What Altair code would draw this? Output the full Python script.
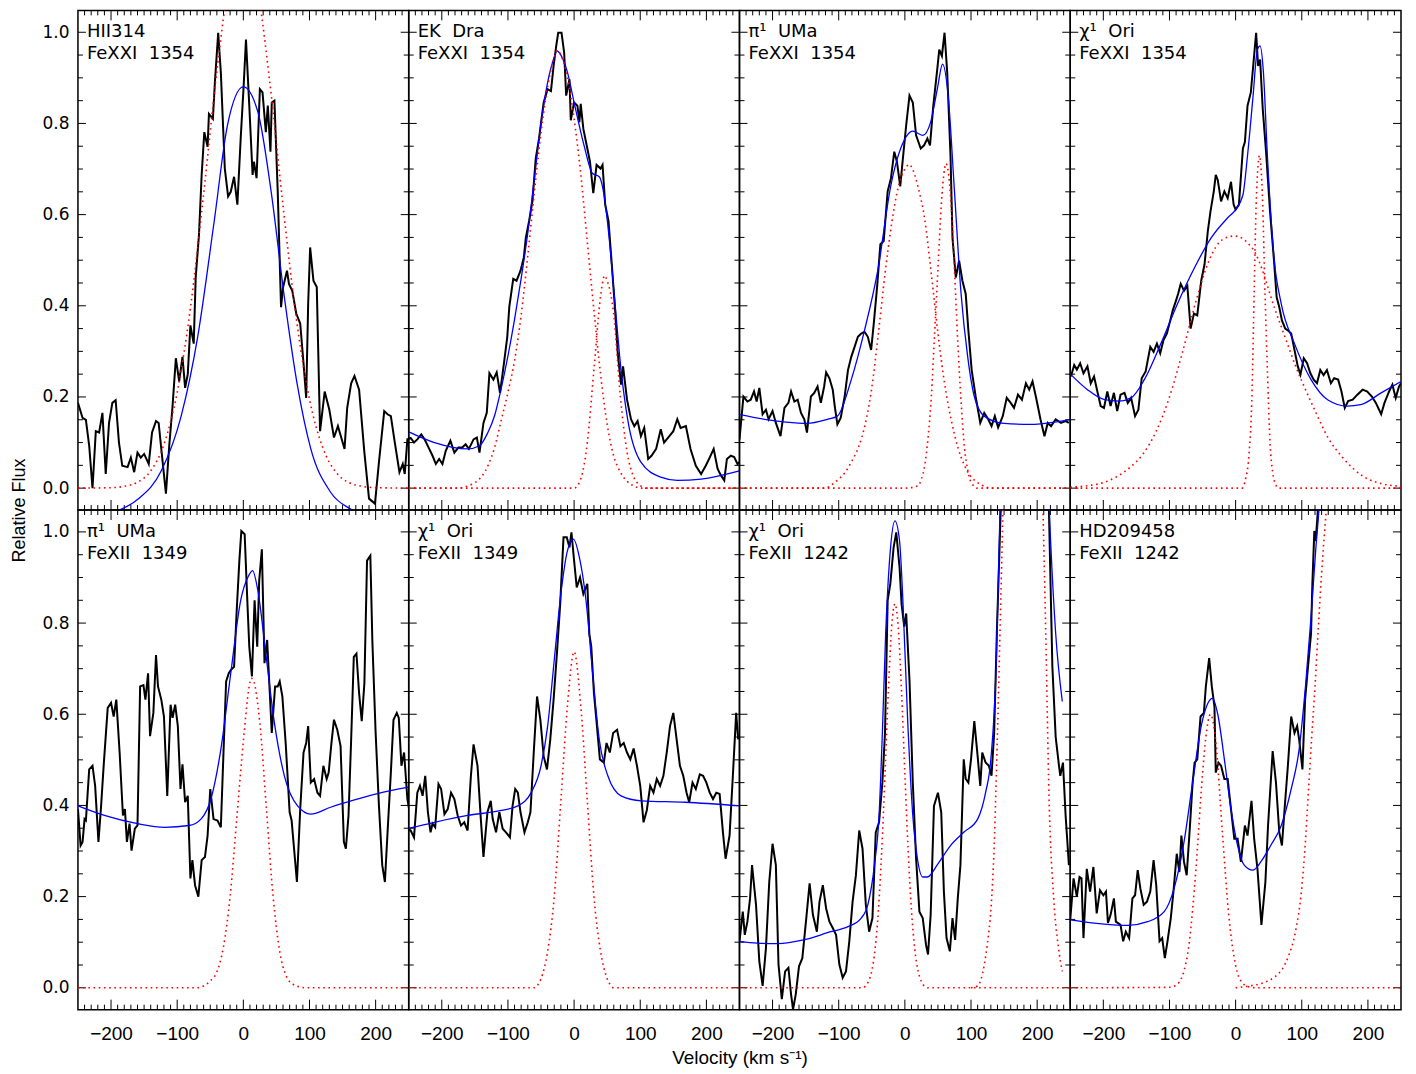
import altair as alt
import pandas as pd

# ------------------------------------------------------------------ data
P1_LABEL = "HII314\nFeXXI\u00a0 1354"
P1_BLACK = [(-250,0.187),(-243,0.154),(-238,0.15),(-233,0.093),(-228,0.0),(-223,0.125),(-218,0.122),(-213,0.165),(-208,0.031),(-203,0.143),(-198,0.187),(-193,0.193),(-188,0.100),(-183,0.049),(-175,0.046),(-170,0.067),(-165,0.035),(-160,0.078),(-155,0.067),(-150,0.075),(-143,0.053),(-138,0.122),(-132,0.147),(-128,0.143),(-124,0.086),(-117,-0.012),(-112,0.093),(-107,0.18),(-102,0.285),(-97,0.234),(-92,0.288),(-88,0.22),(-84,0.25),(-80,0.357),(-75,0.317),(-72,0.462),(-67,0.557),(-63,0.687),(-59,0.781),(-54,0.749),(-52,0.821),(-46,0.81),(-43,0.89),(-38,0.999),(-34,0.912),(-28,0.701),(-23,0.64),(-19,0.65),(-14,0.683),(-9,0.622),(-4,0.767),(0.5,0.883),(4,0.984),(9,0.839),(14,0.687),(16,0.716),(20,0.68),(25,0.875),(29,0.868),(34,0.781),(37,0.839),(41,0.738),(43,0.846),(47,0.85),(52,0.651),(57,0.397),(60,0.44),(66,0.477),(69,0.448),(74,0.433),(80,0.383),(86,0.361),(91,0.274),(95,0.198),(98,0.404),(101,0.528),(106,0.455),(111,0.441),(116,0.125),(123,0.212),(130,0.172),(137,0.111),(143,0.136),(148,0.111),(153,0.086),(157,0.176),(163,0.23),(168,0.246),(175,0.216),(183,0.078),(190,-0.023),(199,-0.034),(205,0.057),(213,0.169),(218,0.162),(223,0.158),(229,0.1),(236,0.035),(241,0.053),(244,0.031),(248,0.107),(253,0.107)]
P1_BLUE = [(-250,-0.07),(-220,-0.065),(-190,-0.05),(-160,-0.025),(-124,0.038),(-94,0.158),(-69,0.332),(-44,0.586),(-24,0.796),(0,0.88),(22,0.825),(42,0.651),(62,0.419),(82,0.223),(102,0.086),(132,-0.009),(168,-0.052),(200,-0.09)]
P1_RED = [[(-250,0),(-200,0.001),(-180,0.004),(-160,0.013),(-140,0.038),(-120,0.096),(-100,0.21),(-80,0.395),(-60,0.646),(-40,0.915),(-20,1.125),(0,1.2),(20,1.109),(40,0.89),(60,0.619),(80,0.373),(100,0.195),(120,0.089),(140,0.035),(160,0.012),(180,0.004),(200,0.001),(250,0)]]

P2_LABEL = "EK\u00a0 Dra\nFeXXI\u00a0 1354"
P2_BLACK = [(-252,0.107),(-247,0.11),(-242,0.1),(-237,0.107),(-231,0.118),(-226,0.107),(-219,0.086),(-214,0.071),(-209,0.053),(-204,0.064),(-199,0.053),(-194,0.082),(-187,0.104),(-181,0.078),(-175,0.089),(-169,0.089),(-164,0.096),(-159,0.086),(-152,0.107),(-147,0.111),(-143,0.078),(-137,0.143),(-132,0.165),(-128,0.252),(-122,0.238),(-117,0.254),(-112,0.209),(-106,0.274),(-101,0.332),(-98,0.397),(-92,0.459),(-87,0.455),(-81,0.477),(-76,0.506),(-73,0.549),(-68,0.586),(-63,0.629),(-58,0.723),(-53,0.767),(-46,0.846),(-40,0.875),(-35,0.871),(-31,0.926),(-27,0.97),(-24,0.999),(-19,0.999),(-15,0.955),(-12,0.861),(-7,0.897),(-5,0.807),(0,0.846),(5,0.839),(8,0.803),(10,0.843),(14,0.788),(19,0.752),(24,0.716),(29,0.647),(34,0.709),(40,0.701),(43,0.709),(47,0.622),(52,0.586),(57,0.491),(62,0.39),(66,0.296),(71,0.227),(74,0.267),(80,0.194),(86,0.151),(91,0.136),(96,0.147),(101,0.114),(106,0.132),(112,0.064),(117,0.071),(124,0.086),(131,0.129),(136,0.1),(144,0.114),(150,0.125),(156,0.151),(161,0.132),(169,0.136),(176,0.086),(184,0.049),(192,0.031),(199,0.049),(204,0.064),(211,0.086),(217,0.042),(222,0.028),(227,0.017),(231,0.064),(237,0.071),(242,0.068),(247,0.053),(252,0.06)]
P2_BLUE = [(-252,0.125),(-211,0.1),(-161,0.086),(-143,0.093),(-131,0.12),(-120,0.16),(-110,0.22),(-100,0.29),(-90,0.37),(-80,0.46),(-70,0.56),(-60,0.68),(-50,0.8),(-40,0.89),(-30,0.945),(-26,0.959),(-20,0.95),(-10,0.912),(0,0.846),(15,0.752),(28,0.69),(38,0.683),(46,0.636),(53,0.549),(61,0.419),(71,0.259),(81,0.151),(101,0.057),(131,0.024),(156,0.017),(192,0.02),(250,0.038)]
P2_RED = [[(-250,0),(-180,0),(-160,0.005),(-150,0.012),(-140,0.025),(-130,0.05),(-120,0.09),(-110,0.15),(-100,0.21),(-90,0.28),(-80,0.38),(-70,0.51),(-60,0.65),(-50,0.78),(-40,0.88),(-30,0.945),(-25,0.96),(-20,0.95),(-10,0.9),(0,0.81),(10,0.69),(20,0.54),(30,0.39),(40,0.25),(50,0.14),(60,0.07),(70,0.035),(80,0.015),(90,0.005),(100,0),(250,0)],
          [(-250,0),(0,0),(10,0.02),(20,0.1),(30,0.26),(40,0.42),(46,0.466),(50,0.455),(60,0.38),(70,0.2),(80,0.08),(90,0.025),(100,0.006),(110,0),(250,0)]]

P3_LABEL = "\u03c0\u00b9\u00a0 UMa\nFeXXI\u00a0 1354"
P3_BLACK = [(-250,0.107),(-244,0.201),(-238,0.19),(-233,0.194),(-228,0.212),(-224,0.19),(-220,0.22),(-215,0.162),(-210,0.172),(-206,0.151),(-200,0.169),(-195,0.143),(-188,0.114),(-182,0.176),(-176,0.187),(-172,0.212),(-167,0.19),(-162,0.194),(-157,0.165),(-152,0.151),(-148,0.122),(-142,0.201),(-137,0.209),(-132,0.223),(-127,0.187),(-122,0.223),(-119,0.254),(-114,0.241),(-109,0.216),(-106,0.18),(-102,0.14),(-97,0.154),(-91,0.201),(-86,0.259),(-81,0.288),(-76,0.31),(-71,0.332),(-66,0.339),(-61,0.343),(-56,0.332),(-51,0.303),(-47,0.361),(-42,0.441),(-37,0.535),(-32,0.542),(-26,0.651),(-21,0.68),(-16,0.738),(-12,0.716),(-7,0.662),(-3,0.723),(2,0.796),(7,0.861),(12,0.846),(17,0.774),(24,0.745),(29,0.752),(34,0.767),(38,0.752),(43,0.839),(49,0.919),(52,0.962),(56,0.948),(60,0.999),(64,0.912),(69,0.73),(72,0.549),(77,0.462),(82,0.499),(87,0.455),(92,0.426),(96,0.346),(101,0.259),(107,0.201),(114,0.143),(120,0.165),(126,0.151),(131,0.136),(136,0.158),(141,0.133),(148,0.158),(154,0.198),(160,0.187),(165,0.176),(171,0.205),(177,0.194),(183,0.23),(188,0.216),(193,0.234),(198,0.201),(205,0.151),(211,0.114),(216,0.143),(221,0.136),(228,0.151),(236,0.143),(243,0.147),(248,0.143)]
P3_BLUE = [(-251,0.162),(-212,0.151),(-180,0.145),(-148,0.142),(-117,0.151),(-102,0.158),(-81,0.238),(-61,0.346),(-41,0.477),(-21,0.665),(-1,0.763),(12,0.783),(27,0.774),(39,0.803),(49,0.875),(57,0.93),(65,0.868),(75,0.651),(85,0.426),(95,0.288),(105,0.201),(120,0.158),(150,0.142),(190,0.14),(251,0.151)]
P3_RED = [[(-250,0),(-120,0),(-110,0.008),(-100,0.02),(-90,0.035),(-80,0.06),(-70,0.09),(-60,0.14),(-50,0.22),(-40,0.34),(-30,0.47),(-20,0.58),(-10,0.66),(0,0.7),(7,0.71),(10,0.705),(20,0.66),(30,0.59),(40,0.47),(50,0.34),(60,0.23),(70,0.15),(80,0.09),(90,0.05),(100,0.025),(110,0.012),(120,0.004),(130,0),(250,0)],
          [(-250,0),(0,0),(20,0.005),(25,0.02),(30,0.05),(35,0.11),(40,0.2),(45,0.34),(50,0.48),(55,0.62),(60,0.7),(62,0.712),(65,0.7),(70,0.62),(75,0.48),(80,0.32),(85,0.19),(90,0.09),(95,0.04),(100,0.013),(110,0),(250,0)]]

P4_LABEL = "\u03c7\u00b9\u00a0 Ori\nFeXXI\u00a0 1354"
P4_BLACK = [(-249,0.245),(-244,0.27),(-240,0.26),(-235,0.274),(-230,0.252),(-224,0.267),(-219,0.23),(-214,0.245),(-209,0.212),(-204,0.18),(-199,0.176),(-194,0.212),(-189,0.18),(-184,0.209),(-179,0.169),(-174,0.205),(-168,0.209),(-163,0.187),(-158,0.198),(-152,0.158),(-147,0.172),(-142,0.241),(-136,0.256),(-129,0.31),(-124,0.299),(-119,0.317),(-114,0.296),(-109,0.325),(-104,0.339),(-100,0.361),(-95,0.39),(-90,0.412),(-87,0.426),(-83,0.448),(-78,0.433),(-73,0.444),(-68,0.35),(-63,0.383),(-58,0.379),(-52,0.455),(-47,0.491),(-42,0.564),(-38,0.607),(-33,0.651),(-30,0.687),(-27,0.676),(-22,0.629),(-17,0.651),(-12,0.636),(-7,0.672),(-3,0.622),(0,0.611),(5,0.622),(11,0.745),(14,0.759),(18,0.839),(23,0.868),(27,0.933),(31,0.999),(34,0.926),(37,0.94),(41,0.832),(46,0.738),(52,0.607),(58,0.499),(62,0.419),(66,0.397),(70,0.368),(75,0.35),(79,0.346),(84,0.339),(89,0.303),(94,0.267),(98,0.249),(103,0.285),(108,0.274),(113,0.252),(118,0.238),(123,0.23),(128,0.259),(133,0.248),(138,0.259),(144,0.23),(149,0.241),(155,0.238),(160,0.212),(165,0.176),(170,0.191),(177,0.194),(184,0.205),(192,0.216),(199,0.212),(206,0.201),(212,0.187),(220,0.162),(225,0.187),(232,0.212),(237,0.227),(242,0.198),(247,0.223),(250,0.23)]
P4_BLUE = [(-249,0.249),(-224,0.216),(-198,0.194),(-176,0.191),(-158,0.198),(-138,0.238),(-113,0.317),(-88,0.404),(-62,0.484),(-37,0.549),(-12,0.593),(0,0.611),(11,0.643),(18,0.73),(26,0.854),(33,0.962),(37,0.97),(42,0.912),(48,0.73),(58,0.506),(69,0.404),(89,0.317),(114,0.238),(139,0.194),(169,0.18),(189,0.183),(220,0.209),(250,0.234)]
P4_RED = [[(-250,0.002),(-220,0.006),(-200,0.012),(-180,0.025),(-160,0.045),(-140,0.075),(-120,0.125),(-100,0.2),(-80,0.3),(-60,0.41),(-40,0.5),(-20,0.545),(-2,0.553),(10,0.548),(20,0.535),(30,0.515),(40,0.48),(50,0.435),(60,0.39),(70,0.35),(80,0.31),(90,0.27),(100,0.235),(120,0.17),(140,0.11),(160,0.07),(180,0.04),(200,0.02),(220,0.01),(250,0.004)],
          [(-250,0),(10,0),(15,0.02),(20,0.07),(25,0.22),(28,0.43),(31,0.62),(34,0.71),(36,0.73),(38,0.71),(41,0.62),(44,0.45),(48,0.26),(52,0.1),(56,0.035),(60,0.01),(65,0),(250,0)]]

P5_LABEL = "\u03c0\u00b9\u00a0 UMa\nFeXII\u00a0 1349"
P5_BLACK = [(-250,0.392),(-246,0.312),(-243,0.32),(-240,0.37),(-238,0.367),(-233,0.479),(-228,0.487),(-224,0.443),(-219,0.32),(-215,0.399),(-211,0.49),(-205,0.614),(-200,0.625),(-196,0.595),(-192,0.632),(-187,0.516),(-182,0.378),(-179,0.392),(-176,0.32),(-172,0.36),(-169,0.301),(-164,0.349),(-160,0.356),(-156,0.661),(-151,0.664),(-148,0.632),(-144,0.69),(-141,0.552),(-136,0.603),(-132,0.73),(-129,0.661),(-124,0.632),(-120,0.595),(-115,0.421),(-110,0.621),(-107,0.592),(-103,0.621),(-99,0.574),(-95,0.436),(-92,0.49),(-88,0.407),(-84,0.421),(-80,0.24),(-77,0.28),(-73,0.225),(-68,0.2),(-63,0.28),(-58,0.287),(-54,0.334),(-50,0.436),(-45,0.37),(-39,0.367),(-34,0.352),(-30,0.516),(-26,0.672),(-22,0.69),(-19,0.697),(-14,0.704),(-10,0.828),(-6,0.937),(-3,1.002),(2,0.995),(6,0.85),(9,0.748),(13,0.683),(17,0.85),(21,0.748),(24,0.893),(28,0.962),(32,0.712),(36,0.763),(39,0.675),(43,0.559),(48,0.661),(52,0.661),(55,0.672),(59,0.639),(64,0.537),(70,0.385),(73,0.367),(78,0.283),(81,0.232),(86,0.392),(91,0.516),(95,0.537),(98,0.574),(102,0.45),(107,0.458),(112,0.428),(116,0.421),(121,0.487),(126,0.458),(129,0.472),(133,0.534),(137,0.588),(142,0.566),(147,0.53),(152,0.32),(155,0.305),(159,0.378),(163,0.545),(167,0.726),(171,0.733),(175,0.646),(179,0.585),(183,0.668),(187,0.937),(192,0.948),(195,0.763),(200,0.559),(205,0.399),(210,0.269),(214,0.232),(218,0.341),(223,0.472),(227,0.588),(232,0.603),(235,0.592),(239,0.487),(243,0.516),(248,0.414),(252,0.38)]
P5_BLUE = [(-250,0.399),(-210,0.378),(-160,0.36),(-119,0.352),(-82,0.356),(-64,0.37),(-49,0.414),(-34,0.523),(-19,0.69),(-4,0.85),(7,0.901),(14,0.915),(22,0.871),(34,0.733),(47,0.581),(62,0.465),(82,0.399),(102,0.381),(132,0.396),(168,0.412),(203,0.426),(250,0.44)]
P5_RED = [[(-250,0),(-70,0),(-60,0.004),(-50,0.015),(-40,0.035),(-30,0.09),(-20,0.2),(-10,0.37),(0,0.54),(10,0.67),(12,0.679),(15,0.675),(25,0.58),(35,0.39),(45,0.2),(55,0.08),(65,0.025),(75,0.008),(85,0.002),(95,0),(250,0)]]

P6_LABEL = "\u03c7\u00b9\u00a0 Ori\nFeXII\u00a0 1349"
P6_BLACK = [(-252,0.349),(-247,0.345),(-242,0.33),(-237,0.428),(-233,0.443),(-229,0.421),(-225,0.465),(-221,0.385),(-217,0.341),(-214,0.36),(-210,0.352),(-205,0.447),(-201,0.436),(-196,0.381),(-191,0.392),(-186,0.428),(-181,0.414),(-176,0.378),(-171,0.356),(-166,0.363),(-161,0.345),(-156,0.465),(-152,0.534),(-146,0.487),(-141,0.37),(-137,0.287),(-131,0.385),(-126,0.41),(-123,0.37),(-118,0.341),(-113,0.385),(-108,0.349),(-103,0.341),(-97,0.33),(-93,0.399),(-89,0.436),(-85,0.428),(-81,0.385),(-75,0.341),(-70,0.363),(-66,0.385),(-61,0.516),(-56,0.639),(-51,0.588),(-46,0.508),(-41,0.479),(-36,0.545),(-31,0.632),(-26,0.733),(-21,0.842),(-16,0.988),(-11,0.988),(-7,0.966),(-4,0.999),(0,0.937),(4,0.878),(9,0.9),(14,0.864),(20,0.886),(23,0.777),(26,0.748),(30,0.646),(35,0.566),(39,0.501),(45,0.494),(49,0.537),(54,0.516),(59,0.559),(65,0.566),(70,0.53),(75,0.537),(80,0.516),(85,0.501),(90,0.525),(95,0.487),(100,0.443),(105,0.363),(110,0.39),(115,0.443),(120,0.428),(125,0.458),(130,0.443),(135,0.465),(140,0.516),(145,0.574),(150,0.603),(155,0.545),(160,0.487),(165,0.465),(170,0.428),(174,0.407),(179,0.45),(184,0.436),(190,0.468),(195,0.465),(200,0.45),(205,0.428),(210,0.414),(215,0.428),(220,0.425),(225,0.341),(229,0.283),(235,0.334),(240,0.465),(245,0.603),(248,0.545)]
P6_BLUE = [(-252,0.349),(-211,0.363),(-161,0.378),(-110,0.389),(-85,0.399),(-65,0.428),(-50,0.487),(-40,0.574),(-30,0.719),(-20,0.864),(-10,0.959),(-1,0.984),(8,0.944),(18,0.85),(28,0.69),(38,0.545),(51,0.465),(71,0.421),(102,0.41),(168,0.407),(250,0.399)]
P6_RED = [[(-250,0),(-60,0),(-55,0.006),(-50,0.02),(-40,0.08),(-30,0.2),(-20,0.41),(-10,0.62),(0,0.737),(10,0.62),(20,0.41),(30,0.2),(40,0.08),(50,0.02),(55,0.006),(60,0),(250,0)]]

P7_LABEL = "\u03c7\u00b9\u00a0 Ori\nFeXII\u00a0 1242"
P7_BLACK = [(-250,0.102),(-245,0.167),(-242,0.116),(-238,0.145),(-234,0.196),(-231,0.269),(-225,0.182),(-220,0.058),(-215,0.004),(-210,0.087),(-205,0.232),(-200,0.316),(-195,0.269),(-191,0.051),(-186,-0.025),(-181,0.036),(-176,0.044),(-172,-0.015),(-169,-0.047),(-165,-0.015),(-160,0.047),(-155,0.065),(-149,0.153),(-144,0.229),(-139,0.16),(-133,0.123),(-129,0.189),(-124,0.225),(-119,0.174),(-114,0.145),(-109,0.131),(-104,0.116),(-99,0.051),(-94,0.022),(-89,0.036),(-84,0.102),(-79,0.189),(-74,0.247),(-69,0.345),(-64,0.305),(-59,0.182),(-54,0.123),(-49,0.153),(-44,0.341),(-39,0.363),(-34,0.45),(-30,0.559),(-26,0.85),(-22,0.886),(-17,0.966),(-13,0.999),(-8,0.922),(-5,0.842),(-1,0.792),(2,0.821),(7,0.675),(12,0.45),(17,0.283),(22,0.167),(27,0.153),(32,0.094),(35,0.073),(39,0.16),(44,0.399),(50,0.428),(55,0.385),(59,0.211),(63,0.109),(68,0.08),(72,0.153),(76,0.105),(80,0.196),(84,0.269),(89,0.501),(92,0.458),(96,0.45),(100,0.501),(105,0.585),(110,0.508),(114,0.443),(117,0.516),(122,0.494),(127,0.487),(131,0.465),(135,0.559),(139,0.777),(143,0.959),(146,1.1),(160,1.6),(200,1.6),(217,1.1),(223,0.704),(228,0.55),(233,0.487),(235,0.465),(239,0.494),(243,0.378),(248,0.269)]
P7_BLUE = [(-250,0.102),(-223,0.098),(-192,0.097),(-153,0.105),(-112,0.123),(-86,0.134),(-66,0.153),(-56,0.182),(-46,0.269),(-39,0.378),(-34,0.559),(-29,0.777),(-22,0.959),(-15,1.024),(-8,0.98),(-3,0.85),(4,0.595),(12,0.378),(19,0.283),(27,0.243),(34,0.243),(50,0.272),(69,0.312),(89,0.341),(110,0.37),(122,0.428),(130,0.501),(138,0.704),(144,1.06),(150,1.4),(160,1.9),(200,1.9),(212,1.4),(218,1.06),(221,0.959),(228,0.777),(238,0.628)]
P7_RED = [[(-250,0),(-65,0),(-60,0.003),(-55,0.014),(-50,0.037),(-45,0.085),(-40,0.17),(-35,0.3),(-30,0.47),(-25,0.65),(-20,0.79),(-15,0.842),(-10,0.79),(-5,0.65),(0,0.47),(5,0.3),(10,0.17),(15,0.085),(20,0.037),(25,0.014),(30,0.003),(35,0),(250,0)],
          [(100,0),(110,0.004),(120,0.05),(125,0.1),(130,0.17),(135,0.31),(140,0.56),(145,0.85),(150,1.15),(160,1.6),(200,1.6),(208,1.1),(213,0.777),(218,0.414),(225,0.196),(232,0.09),(238,0.036)]]

P8_LABEL = "HD209458\nFeXII\u00a0 1242"
P8_BLACK = [(-250,0.149),(-245,0.24),(-240,0.2),(-236,0.243),(-233,0.24),(-230,0.109),(-225,0.261),(-220,0.211),(-215,0.265),(-210,0.163),(-205,0.214),(-200,0.203),(-196,0.211),(-193,0.142),(-189,0.16),(-184,0.196),(-181,0.145),(-174,0.138),(-170,0.102),(-166,0.123),(-161,0.109),(-156,0.196),(-152,0.203),(-148,0.258),(-144,0.218),(-139,0.182),(-134,0.189),(-129,0.211),(-124,0.28),(-120,0.225),(-115,0.102),(-111,0.109),(-107,0.065),(-103,0.102),(-98,0.153),(-94,0.211),(-89,0.294),(-85,0.254),(-82,0.334),(-78,0.276),(-74,0.247),(-69,0.356),(-65,0.45),(-62,0.494),(-58,0.501),(-53,0.595),(-48,0.603),(-45,0.661),(-40,0.723),(-36,0.661),(-32,0.617),(-30,0.472),(-26,0.494),(-22,0.487),(-17,0.458),(-12,0.458),(-7,0.392),(-2,0.327),(3,0.327),(8,0.276),(14,0.356),(18,0.334),(24,0.41),(28,0.327),(33,0.261),(39,0.138),(45,0.232),(49,0.356),(56,0.519),(61,0.45),(66,0.341),(70,0.312),(74,0.392),(79,0.487),(84,0.595),(89,0.559),(93,0.574),(96,0.545),(101,0.479),(105,0.632),(109,0.697),(114,0.777),(116,0.886),(119,1.002),(121,0.98),(124,1.04),(130,1.3)]
P8_BLUE = [(-250,0.149),(-214,0.142),(-163,0.137),(-133,0.145),(-108,0.167),(-93,0.218),(-78,0.32),(-65,0.45),(-52,0.574),(-42,0.624),(-35,0.635),(-27,0.6),(-17,0.501),(-7,0.392),(3,0.312),(13,0.269),(26,0.258),(38,0.276),(53,0.312),(69,0.356),(84,0.436),(96,0.523),(106,0.668),(114,0.813),(121,0.959),(126,1.05),(135,1.3)]
P8_RED = [[(-250,0),(-100,0.001),(-90,0.006),(-80,0.028),(-70,0.1),(-60,0.26),(-50,0.47),(-45,0.55),(-38,0.6),(-30,0.54),(-20,0.34),(-10,0.154),(0,0.049),(10,0.011),(20,0.002),(30,0),(250,0)],
          [(0,0),(20,0.004),(40,0.01),(60,0.025),(70,0.04),(80,0.07),(90,0.12),(100,0.22),(105,0.31),(110,0.43),(115,0.55),(120,0.66),(125,0.79),(130,0.91),(135,1.01),(140,1.1),(150,1.3),(160,1.5)]]

PANELS = [
    (P1_LABEL, P1_BLACK, P1_BLUE, P1_RED),
    (P2_LABEL, P2_BLACK, P2_BLUE, P2_RED),
    (P3_LABEL, P3_BLACK, P3_BLUE, P3_RED),
    (P4_LABEL, P4_BLACK, P4_BLUE, P4_RED),
    (P5_LABEL, P5_BLACK, P5_BLUE, P5_RED),
    (P6_LABEL, P6_BLACK, P6_BLUE, P6_RED),
    (P7_LABEL, P7_BLACK, P7_BLUE, P7_RED),
    (P8_LABEL, P8_BLACK, P8_BLUE, P8_RED),
]

X_LABELS = [-200, -100, 0, 100, 200]
X_MINOR = [v for v in range(-240, 250, 10) if v % 100 != 0]
Y_LABELS = [0.0, 0.2, 0.4, 0.6, 0.8, 1.0]
Y_MINOR = [0.05, 0.1, 0.15, 0.25, 0.3, 0.35, 0.45, 0.5, 0.55, 0.65, 0.7, 0.75, 0.85, 0.9, 0.95]

X_TITLE = "Velocity (km s\u207b\u00b9)"
Y_TITLE = "Relative Flux"

# ------------------------------------------------------------------ layout / style
W, H = 331, 500
XS = alt.Scale(domain=[-250, 250], nice=False, zero=False)
YS = alt.Scale(domain=[-0.048, 1.048], nice=False, zero=False)
TICK_FONT_X = "Liberation Sans"
TICK_FONT_Y = "DejaVu Sans"


def x_enc(idx):
    if idx < 4:
        return alt.X("v:Q", scale=XS, axis=None)
    kw = dict(values=X_LABELS, ticks=False, tickSize=0, domain=False, grid=False,
              labelFont=TICK_FONT_X, labelFontSize=19, labelPadding=30,
              labelBaseline="alphabetic", labelFlush=False, labelOverlap=False,
              labelColor="black")
    if idx == 5:
        kw.update(title=X_TITLE, titleX=W, titleY=54, titleAlign="center",
                  titleBaseline="alphabetic", titleFont="Liberation Sans",
                  titleFontSize=19, titleFontWeight="normal", titleColor="black")
    else:
        kw["title"] = None
    return alt.X("v:Q", scale=XS, axis=alt.Axis(**kw))


def y_enc(idx):
    if idx % 4 != 0:
        return alt.Y("f:Q", scale=YS, axis=None)
    kw = dict(values=Y_LABELS, format=".1f", ticks=False, tickSize=0, domain=False,
              grid=False, labelFont=TICK_FONT_Y, labelFontSize=17, labelPadding=9,
              labelColor="black")
    if idx == 0:
        kw.update(title=Y_TITLE, titleX=-53, titleY=H, titleAngle=270,
                  titleAlign="center", titleBaseline="alphabetic",
                  titleFont="Liberation Sans", titleFontSize=18,
                  titleFontWeight="normal", titleColor="black")
    else:
        kw["title"] = None
    return alt.Y("f:Q", scale=YS, axis=alt.Axis(**kw))


def make_panel(idx, label, black, blue, reds):
    X = x_enc(idx)
    Y = y_enc(idx)
    layers = []
    # tick marks (drawn inward on all four sides)
    for vals, ln in ((X_LABELS, 10), (X_MINOR, 5)):
        df = pd.DataFrame({"v": vals})
        layers.append(alt.Chart(df).mark_rule(color="black", strokeWidth=1).encode(
            x=X, y=alt.value(0), y2=alt.value(ln)))
        layers.append(alt.Chart(df).mark_rule(color="black", strokeWidth=1).encode(
            x=X, y=alt.value(H), y2=alt.value(H - ln)))
    for vals, ln in ((Y_LABELS, 8), (Y_MINOR, 5)):
        df = pd.DataFrame({"f": vals})
        layers.append(alt.Chart(df).mark_rule(color="black", strokeWidth=1).encode(
            y=Y, x=alt.value(0), x2=alt.value(ln)))
        layers.append(alt.Chart(df).mark_rule(color="black", strokeWidth=1).encode(
            y=Y, x=alt.value(W), x2=alt.value(W - ln)))

    bdf = pd.DataFrame(black, columns=["v", "f"])
    layers.append(alt.Chart(bdf).mark_line(color="black", strokeWidth=2, clip=True).encode(
        x=X, y=Y, order="v:Q"))

    udf = pd.DataFrame(blue, columns=["v", "f"])
    layers.append(alt.Chart(udf).mark_line(color="#0000ff", strokeWidth=1.3, clip=True,
                                           interpolate="monotone").encode(x=X, y=Y, order="v:Q"))

    rows = []
    for ci, comp in enumerate(reds):
        for v, f in comp:
            rows.append({"v": v, "f": f, "c": ci})
    rdf = pd.DataFrame(rows)
    layers.append(alt.Chart(rdf).mark_line(color="#ff0000", strokeWidth=1.6, clip=True,
                                           strokeDash=[1.6, 3.6], interpolate="monotone").encode(
        x=X, y=Y, detail="c:N", order="v:Q"))

    tdf = pd.DataFrame({"t": [label]})
    layers.append(alt.Chart(tdf).mark_text(align="left", baseline="alphabetic",
                                           font="DejaVu Sans", fontSize=18, color="black",
                                           lineBreak="\n", lineHeight=22).encode(
        x=alt.value(9), y=alt.value(27), text="t:N"))

    return alt.layer(*layers).properties(width=W, height=H)


panels = [make_panel(i, *p) for i, p in enumerate(PANELS)]

chart = alt.concat(*panels, columns=4, spacing=0, bounds="flush").properties(
    padding={"left": 2, "top": 0, "right": 5, "bottom": 0},
    background="white",
).configure_view(stroke="black", strokeWidth=1.5)

chart.save("out.html", embed_options={"renderer": "svg", "actions": False})
